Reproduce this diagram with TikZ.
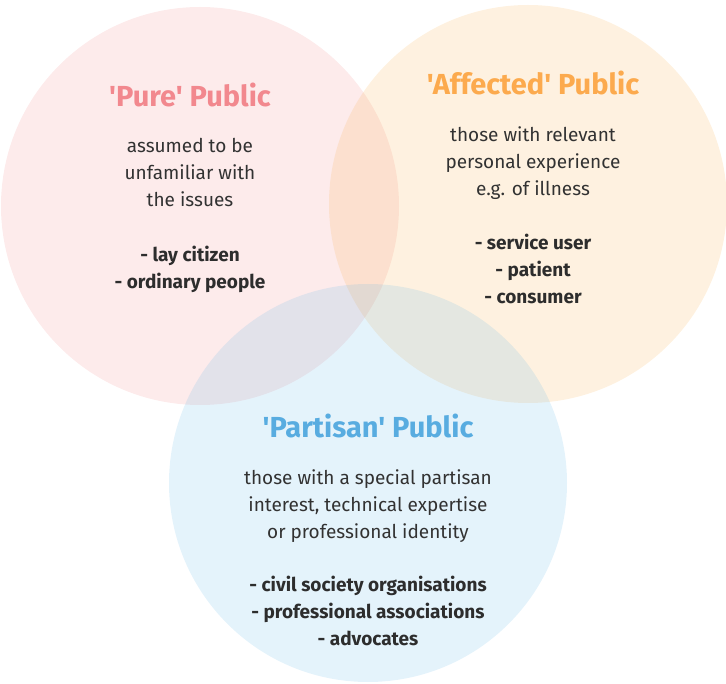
\documentclass[tikz,border=0pt]{standalone}
\usepackage{fontspec}
\setmainfont{Fira Sans}[Ligatures=TeXOff]
\definecolor{pinkc}{RGB}{240,128,130}
\definecolor{orangec}{RGB}{250,170,60}
\definecolor{bluec}{RGB}{90,180,230}
\definecolor{pinkt}{RGB}{242,136,142}
\definecolor{oranget}{RGB}{252,170,78}
\definecolor{bluet}{RGB}{88,172,224}
\definecolor{bodyt}{RGB}{50,50,50}
\begin{document}
\begin{tikzpicture}[x=1pt,y=-1pt,
  circ/.style={circle,minimum size=398pt,inner sep=0pt,fill opacity=0.16,draw=none},
  ttl/.style={font=\fontsize{29}{32}\selectfont\bfseries,anchor=center},
  body/.style={font=\fontsize{19}{27}\selectfont,text=bodyt,align=center,anchor=north},
  blist/.style={font=\fontsize{19}{27}\selectfont\bfseries,text=bodyt!90!black,align=center,anchor=north}]
\useasboundingbox (0,0) rectangle (726,684);
\node[circ,fill=pinkc] (cp) at (200,206) {};
\node[circ,fill=orangec] (co) at (528,204) {};
\node[circ,fill=bluec] (cb) at (368,483) {};
\node[ttl,text=pinkt] (tp) at (190,95) {'Pure' Public};
\node[body] (bp) at (190,135) {assumed to be\\unfamiliar with\\the issues};
\node[blist] (lp) at (190,243) {- lay citizen\\- ordinary people};
\node[ttl,text=oranget] (to) at (533,83) {'Affected' Public};
\node[body] (bo) at (533,123) {those with relevant\\personal experience\\e.g. of illness};
\node[blist] (lo) at (533,231) {- service user\\- patient\\- consumer};
\node[ttl,text=bluet] (tb) at (368,426) {'Partisan' Public};
\node[body] (bb) at (368,466) {those with a special partisan\\interest, technical expertise\\or professional identity};
\node[blist] (lb) at (368,573) {- civil society organisations\\- professional associations\\- advocates};
\end{tikzpicture}
\end{document}
